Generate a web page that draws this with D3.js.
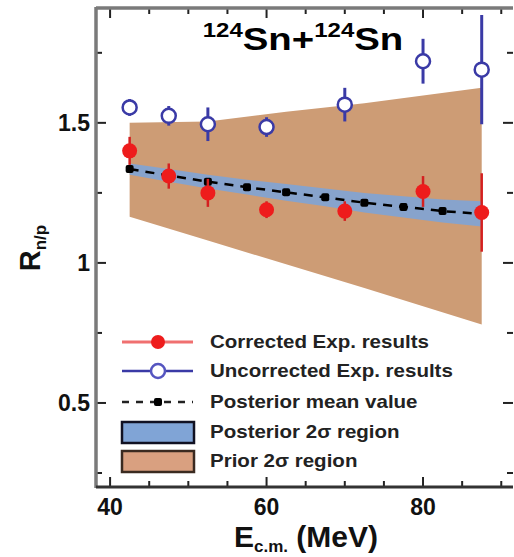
<!DOCTYPE html>
<html>
<head>
<meta charset="utf-8">
<script src="https://cdn.jsdelivr.net/npm/d3@7"></script>
<style>
  body { margin: 0; background: #fff; }
  svg { font-family: "Liberation Sans", Arial, sans-serif; font-weight: bold; }
</style>
</head>
<body>
<div id="chart"></div>
<script>
// Data
const expEnergies = [42.5, 47.5, 52.5, 60, 70, 80, 87.5];
const correctedVals = [1.40, 1.31, 1.25, 1.19, 1.185, 1.255, 1.18];
const correctedErr = [0.05, 0.045, 0.05, 0.03, 0.035, 0.055, 0.14];
const uncorrectedVals = [1.555, 1.525, 1.495, 1.485, 1.565, 1.72, 1.69];
const uncorrectedErr = [0.03, 0.035, 0.06, 0.035, 0.06, 0.08, 0.195];

const postEnergies = [42.5, 47.5, 52.5, 57.5, 62.5, 67.5, 72.5, 77.5, 82.5, 87.5];
const postMean = [1.335, 1.312, 1.29, 1.27, 1.252, 1.234, 1.215, 1.2, 1.185, 1.175];
const postUpper = [1.355, 1.335, 1.315, 1.297, 1.282, 1.266, 1.25, 1.238, 1.226, 1.22];
const postLower = [1.315, 1.29, 1.266, 1.244, 1.222, 1.202, 1.18, 1.162, 1.144, 1.13];

const priorEnergies = [42.5, 52.5, 62.5, 72.5, 87.5];
const priorUpper = [1.50, 1.505, 1.54, 1.57, 1.625];
const priorLower = [1.165, 1.08, 0.995, 0.91, 0.78];

const xTicks = [40, 60, 80];
const yTicks = [0.5, 1, 1.5];

const legendLabels = ["Corrected Exp. results", "Uncorrected Exp. results",
  "Posterior mean value", "Posterior 2\u03c3 region", "Prior 2\u03c3 region"];

const W = 514, H = 557;
const margin = { top: 8, right: 1, bottom: 70, left: 96 };
const width = W - margin.left - margin.right;
const height = H - margin.top - margin.bottom;

const svg = d3.select("#chart").append("svg")
  .attr("width", W).attr("height", H);
svg.append("rect").attr("width", W).attr("height", H).attr("fill", "#fff");

const g = svg.append("g").attr("transform", `translate(${margin.left},${margin.top})`);

const x = d3.scaleLinear().domain([38.2, 91.5]).range([0, width]);
const y = d3.scaleLinear().domain([0.2, 1.91]).range([height, 0]);

const redC = "#ee1c1c", blueC = "#3a3aa6", priorC = "#cd9c75", postC = "#80a4d6";

// Prior band
const prior = priorEnergies.map((e, i) => ({ e, lo: priorLower[i], hi: priorUpper[i] }));
g.append("path").datum(prior)
  .attr("fill", priorC)
  .attr("d", d3.area().x(d => x(d.e)).y0(d => y(d.lo)).y1(d => y(d.hi)));

// Posterior band
const post = postEnergies.map((e, i) => ({ e, m: postMean[i], lo: postLower[i], hi: postUpper[i] }));
g.append("path").datum(post)
  .attr("fill", postC).attr("opacity", 0.9)
  .attr("d", d3.area().x(d => x(d.e)).y0(d => y(d.lo)).y1(d => y(d.hi)));

// Posterior mean dashed line with dots
g.append("path").datum(post)
  .attr("fill", "none").attr("stroke", "#000").attr("stroke-width", 2.5)
  .attr("stroke-dasharray", "9,7")
  .attr("d", d3.line().x(d => x(d.e)).y(d => y(d.m)));
g.selectAll(".pdot").data(post).enter().append("rect")
  .attr("x", d => x(d.e) - 4).attr("y", d => y(d.m) - 4)
  .attr("width", 8).attr("height", 8).attr("rx", 2).attr("fill", "#000");

// Uncorrected experimental points
const unc = expEnergies.map((e, i) => ({ e, v: uncorrectedVals[i], err: uncorrectedErr[i] }));
g.selectAll(".uerr").data(unc).enter().append("line")
  .attr("x1", d => x(d.e)).attr("x2", d => x(d.e))
  .attr("y1", d => y(d.v - d.err)).attr("y2", d => y(d.v + d.err))
  .attr("stroke", blueC).attr("stroke-width", 3);
g.selectAll(".upt").data(unc).enter().append("circle")
  .attr("cx", d => x(d.e)).attr("cy", d => y(d.v)).attr("r", 7)
  .attr("fill", "#fff").attr("stroke", blueC).attr("stroke-width", 2.5);

// Corrected experimental points
const cor = expEnergies.map((e, i) => ({ e, v: correctedVals[i], err: correctedErr[i] }));
g.selectAll(".cerr").data(cor).enter().append("line")
  .attr("x1", d => x(d.e)).attr("x2", d => x(d.e))
  .attr("y1", d => y(d.v - d.err)).attr("y2", d => y(d.v + d.err))
  .attr("stroke", "#d42020").attr("stroke-width", 2.5);
g.selectAll(".cpt").data(cor).enter().append("circle")
  .attr("cx", d => x(d.e)).attr("cy", d => y(d.v)).attr("r", 7.5)
  .attr("fill", redC);

// Axes: ticks pointing inward
const xMinor = d3.range(40, 91, 5);
const yMinor = d3.range(0.25, 1.9, 0.25);
function tickSet(sel, vals, fn) { sel.selectAll(null).data(vals).enter().append("line").each(fn); }

const axisG = g.append("g").attr("stroke", "#222").attr("stroke-width", 2);
tickSet(axisG, xMinor, function (d) {
  const len = xTicks.includes(d) ? 10 : 6;
  d3.select(this).attr("x1", x(d)).attr("x2", x(d)).attr("y1", height).attr("y2", height - len);
  d3.select(this.parentNode).append("line")
    .attr("x1", x(d)).attr("x2", x(d)).attr("y1", 0).attr("y2", len);
});
tickSet(axisG, yMinor, function (d) {
  const len = yTicks.includes(d) ? 10 : 6;
  d3.select(this).attr("x1", 0).attr("x2", len).attr("y1", y(d)).attr("y2", y(d));
  d3.select(this.parentNode).append("line")
    .attr("x1", width).attr("x2", width - len).attr("y1", y(d)).attr("y2", y(d));
});

// Frame
g.append("line").attr("x1", 0).attr("x2", 0).attr("y1", -1).attr("y2", height + 1)
  .attr("stroke", "#7a7a7a").attr("stroke-width", 3.5);
g.append("line").attr("x1", 0).attr("x2", width).attr("y1", 0).attr("y2", 0)
  .attr("stroke", "#7a7a7a").attr("stroke-width", 3.5);
g.append("line").attr("x1", 0).attr("x2", width).attr("y1", height).attr("y2", height)
  .attr("stroke", "#333").attr("stroke-width", 3);

// Tick labels
g.selectAll(".xl").data(xTicks).enter().append("text")
  .attr("x", d => x(d)).attr("y", height + 28)
  .attr("text-anchor", "middle").attr("font-size", 23).attr("fill", "#111")
  .text(d => d);
g.selectAll(".yl").data(yTicks).enter().append("text")
  .attr("x", -6).attr("y", d => y(d) + 8)
  .attr("text-anchor", "end").attr("font-size", 23).attr("fill", "#111")
  .text(d => d);

// Title (horizontally stretched like the reference)
const title = svg.append("text").attr("transform", "translate(303,50) scale(1.2,1)")
  .attr("text-anchor", "middle").attr("font-size", 32).attr("fill", "#000");
title.append("tspan").attr("font-size", 20).attr("dy", -13).text("124");
title.append("tspan").attr("dy", 13).text("Sn+");
title.append("tspan").attr("font-size", 20).attr("dy", -13).text("124");
title.append("tspan").attr("dy", 13).text("Sn");

// Axis titles
const xt = svg.append("text").attr("x", 306).attr("y", 547)
  .attr("text-anchor", "middle").attr("font-size", 30).attr("fill", "#111");
xt.append("tspan").text("E");
xt.append("tspan").attr("font-size", 17).attr("dy", 5).text("c.m.");
xt.append("tspan").attr("dy", -5).text(" (MeV)");

const yt = svg.append("text").attr("transform", "translate(40,248) rotate(-90)")
  .attr("text-anchor", "middle").attr("font-size", 29).attr("fill", "#111");
yt.append("tspan").text("R");
yt.append("tspan").attr("font-size", 17).attr("dy", 6).text("n/p");

// Legend
const legY = [342, 371, 402, 432, 461];
const lg = svg.append("g");
// corrected
lg.append("line").attr("x1", 122).attr("x2", 193).attr("y1", legY[0]).attr("y2", legY[0])
  .attr("stroke", "#f07070").attr("stroke-width", 3);
lg.append("circle").attr("cx", 158).attr("cy", legY[0]).attr("r", 7).attr("fill", redC);
// uncorrected
lg.append("line").attr("x1", 122).attr("x2", 193).attr("y1", legY[1]).attr("y2", legY[1])
  .attr("stroke", blueC).attr("stroke-width", 2.5);
lg.append("circle").attr("cx", 158).attr("cy", legY[1]).attr("r", 7)
  .attr("fill", "#fff").attr("stroke", "#5555c0").attr("stroke-width", 2.5);
// posterior mean
lg.append("line").attr("x1", 122).attr("x2", 193).attr("y1", legY[2]).attr("y2", legY[2])
  .attr("stroke", "#222").attr("stroke-width", 2.5).attr("stroke-dasharray", "7,7");
lg.append("rect").attr("x", 154).attr("y", legY[2] - 4).attr("width", 8).attr("height", 8)
  .attr("rx", 2).attr("fill", "#000");
// bands
lg.append("rect").attr("x", 122).attr("y", legY[3] - 10).attr("width", 72).attr("height", 21)
  .attr("fill", postC).attr("stroke", "#112").attr("stroke-width", 2.5);
lg.append("rect").attr("x", 122).attr("y", legY[4] - 10).attr("width", 72).attr("height", 21)
  .attr("fill", "#d9a080").attr("stroke", "#3a2a20").attr("stroke-width", 2.5);

lg.selectAll(".lt").data(legendLabels).enter().append("text")
  .attr("transform", (d, i) => `translate(210,${legY[i] + 6}) scale(1.14,1)`)
  .attr("font-size", 18).attr("fill", "#222")
  .text(d => d);
</script>
</body>
</html>
